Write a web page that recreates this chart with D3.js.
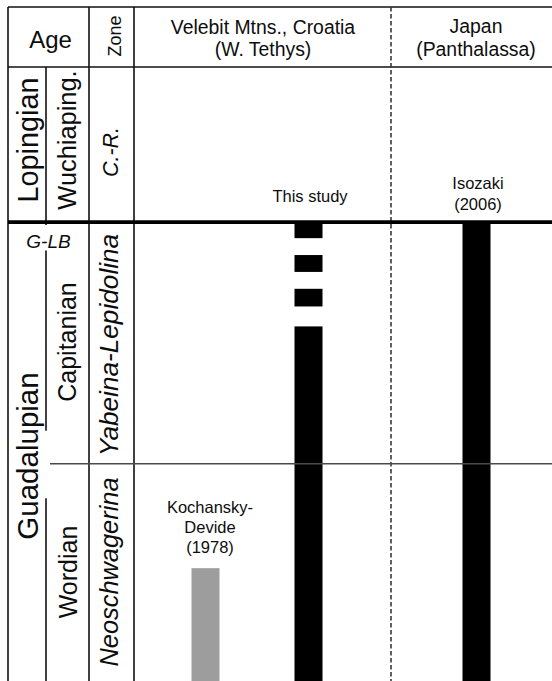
<!DOCTYPE html>
<html>
<head>
<meta charset="utf-8">
<script src="https://cdn.jsdelivr.net/npm/d3@7"></script>
<style>
  html, body { margin: 0; padding: 0; background: #fff; }
  svg { display: block; }
  text { font-family: "Liberation Sans", Arial, Helvetica, sans-serif; fill: #0d0d0d; }
</style>
</head>
<body>
<svg id="chart" width="552" height="681"></svg>
<script>
// ---- data (stratigraphic levels in arbitrary chart units, 0 = top of body, 40 = base) ----
const levelDomain = [0, 40];
const boundaryLopGua = 10.1;      // Lopingian / Guadalupian (thick line)
const boundaryCapWor = 25.85;     // Capitanian / Wordian

const series = ["Kochansky-Devide (1978)", "This study", "Isozaki (2006)"];
const kochanskyRanges = [[32.65, 40]];
const thisStudyRanges = [[10.1, 11.15], [12.25, 13.35], [14.45, 15.6], [16.9, 40]];
const isozakiRanges   = [[10.1, 40]];

const seriesLabels = {
  "Kochansky-Devide (1978)": ["Kochansky-", "Devide", "(1978)"],
  "This study": ["This study"],
  "Isozaki (2006)": ["Isozaki", "(2006)"]
};
const seriesColors = {
  "Kochansky-Devide (1978)": "#9d9d9d",
  "This study": "#000",
  "Isozaki (2006)": "#000"
};

const headerAge = "Age";
const headerZone = "Zone";
const headerCroatia = ["Velebit Mtns., Croatia", "(W. Tethys)"];
const headerJapan = ["Japan", "(Panthalassa)"];
const series1 = ["Lopingian", "Guadalupian"];
const stages = ["Wuchiaping.", "Capitanian", "Wordian"];
const zones = ["C.-R.", "Yabeina-Lepidolina", "Neoschwagerina"];
const glbLabel = "G-LB";

// ---- layout ----
const svg = d3.select("#chart");
const W = 552, H = 681;
const yTop = 7, headBottom = 67;
const xLeft = 8, xSeries = 46, xStage = 89, xZone = 134, xDash = 391, xRight = 552;

const y = d3.scaleLinear().domain(levelDomain).range([headBottom, H]);

const barX = {
  "Kochansky-Devide (1978)": 205.5,
  "This study": 308.5,
  "Isozaki (2006)": 476.5
};
const barW = 28;
const rangesBy = {
  "Kochansky-Devide (1978)": kochanskyRanges,
  "This study": thisStudyRanges,
  "Isozaki (2006)": isozakiRanges
};

const lineColor = "#111";
function hline(x1, x2, yy, w, col) {
  svg.append("line").attr("x1", x1).attr("x2", x2).attr("y1", yy).attr("y2", yy)
    .attr("stroke", col || lineColor).attr("stroke-width", w || 1.6);
}
function vline(xx, y1, y2, w, col, dash) {
  const l = svg.append("line").attr("x1", xx).attr("x2", xx).attr("y1", y1).attr("y2", y2)
    .attr("stroke", col || lineColor).attr("stroke-width", w || 1.6);
  if (dash) l.attr("stroke-dasharray", dash);
}

// bars
series.forEach(s => {
  svg.append("g").selectAll("rect").data(rangesBy[s]).join("rect")
    .attr("x", barX[s] - barW / 2)
    .attr("width", barW)
    .attr("y", d => y(d[0]))
    .attr("height", d => y(d[1]) - y(d[0]))
    .attr("fill", seriesColors[s]);
});

// grid lines
hline(xLeft, xRight, yTop);
hline(xLeft, xRight, headBottom);
vline(xLeft, yTop, H);
vline(xStage, yTop, H);
vline(xZone, yTop, H);
vline(xDash, yTop, H, 1.6, "#3a3a3a", "4.5,2.5");
vline(xSeries, headBottom, y(boundaryLopGua) + 3);
vline(xSeries, y(11.95), y(23.7));
vline(xSeries, y(28.1), H);
hline(xSeries + 4, xRight, y(boundaryCapWor), 1.5, "#4a4a4a");
hline(xLeft, xRight, y(boundaryLopGua), 3.8, "#000");

// text helpers
function htext(txt, x, yy, size, italic) {
  svg.append("text").attr("x", x).attr("y", yy).attr("text-anchor", "middle")
    .attr("font-size", size).attr("font-style", italic ? "italic" : "normal").text(txt);
}
function rtext(txt, bx, cy, size, italic) {
  svg.append("text").attr("transform", `translate(${bx},${cy}) rotate(-90)`)
    .attr("text-anchor", "middle").attr("font-size", size)
    .attr("font-style", italic ? "italic" : "normal").text(txt);
}

// headers
htext(headerAge, 50.5, 48, 24);
rtext(headerZone, 121, 36, 18);
htext(headerCroatia[0], 263, 34, 19.4);
htext(headerCroatia[1], 263, 56, 19.4);
htext(headerJapan[0], 476, 33, 19.4);
htext(headerJapan[1], 476, 56, 19.4);

// age column
rtext(series1[0], 37.5, 140, 28.8);
rtext(series1[1], 37.5, 456, 29.5);
rtext(stages[0], 76, 140, 25.4);
rtext(stages[1], 76, 342, 25);
rtext(stages[2], 77, 572, 25);
htext(glbLabel, 48.5, 248, 19, true);

// zone column
rtext(zones[0], 118, 152, 21.5, true);
rtext(zones[1], 118, 345, 26.2, true);
rtext(zones[2], 117.5, 572, 25.4, true);

// series labels
const labelPos = {
  "Kochansky-Devide (1978)": { x: 210, y0: 513, dy: 20 },
  "This study": { x: 310, y0: 202, dy: 20 },
  "Isozaki (2006)": { x: 478, y0: 189, dy: 21 }
};
series.forEach(s => {
  const p = labelPos[s];
  seriesLabels[s].forEach((t, i) => htext(t, p.x, p.y0 + i * p.dy, 16.5));
});
</script>
</body>
</html>
